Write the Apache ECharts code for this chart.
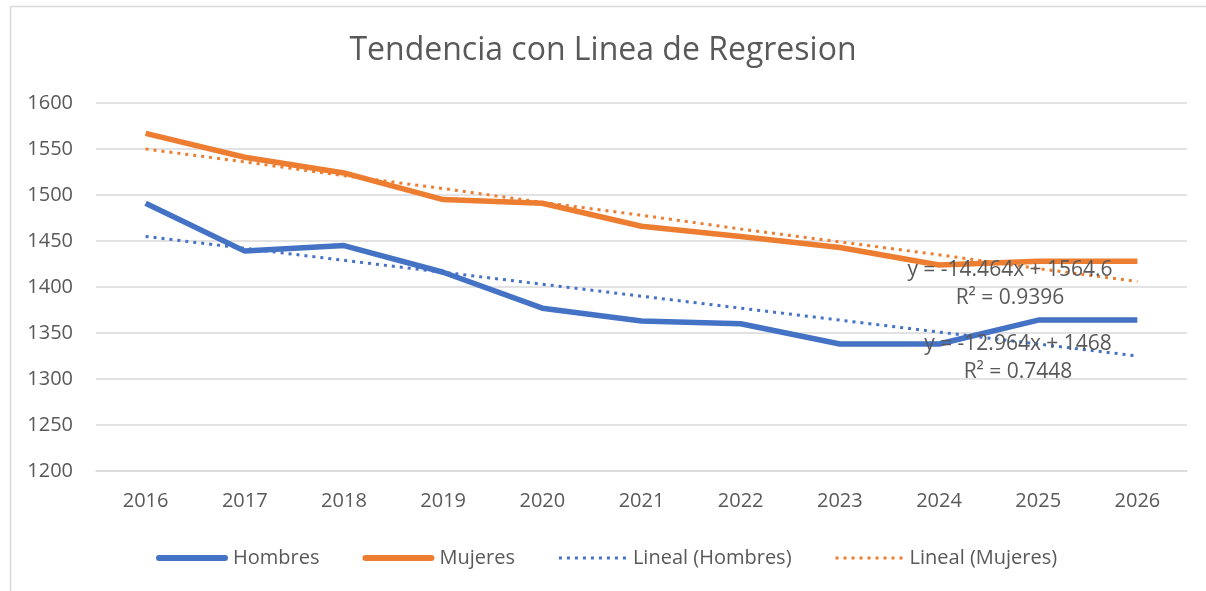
<!DOCTYPE html>
<html>
<head>
<meta charset="utf-8">
<script src="https://cdn.jsdelivr.net/npm/echarts@6/dist/echarts.min.js"></script>
<style>html,body{margin:0;padding:0;background:#fff;}#c{width:1206px;height:591px;}</style>
</head>
<body>
<div id="c"></div>
<script>
const years = ['2016','2017','2018','2019','2020','2021','2022','2023','2024','2025','2026'];
const hombres = [1491, 1439, 1445, 1416, 1377, 1363, 1360, 1338, 1338, 1364, 1364];
const mujeres = [1567, 1541, 1524, 1495, 1491, 1466, 1455, 1443, 1424, 1428, 1428];
const linealHombres = [1455, 1442, 1429, 1416, 1403, 1390, 1377, 1364, 1351, 1338, 1325];
const linealMujeres = [1550, 1536, 1521, 1507, 1492, 1478, 1463, 1449, 1435, 1420, 1406];
const eqMujeres = 'y = -14.464x + 1564.6';
const r2Mujeres = 'R² = 0.9396';
const eqHombres = 'y = -12.964x + 1468';
const r2Hombres = 'R² = 0.7448';
const titleText = 'Tendencia con Linea de Regresion';

const FONT = 'Open Sans';
const TXT = '#595959';
const BLUE = '#4472C4';
const ORANGE = '#ED7D31';

// legend icons
let dots = 'path://M0,0L0.01,0L0.01,6L0,6Z';
for (let i = 0; i < 9; i++) {
  const x = 1 + i * 8;
  dots += 'M' + x + ',1.5h3v3h-3Z';
}
const solid = 'path://M3,0h66a3,3 0 0 1 0,6h-66a3,3 0 0 1 0,-6Z';

const chart = echarts.init(document.getElementById('c'), null, {renderer: 'canvas'});
chart.setOption({
  animation: false,
  backgroundColor: '#fff',
  textStyle: {fontFamily: FONT, color: TXT},
  title: {
    text: titleText, left: 'center', top: 30,
    textStyle: {fontFamily: FONT, fontSize: 32, fontWeight: 'normal', color: TXT}
  },
  grid: {left: 96, right: 19, top: 103, bottom: 120, containLabel: false},
  legend: {
    left: 151, top: 543, itemWidth: 72, itemHeight: 6, itemGap: 43,
    textStyle: {fontFamily: FONT, fontSize: 20, color: TXT},
    data: [
      {name: 'Hombres', icon: solid},
      {name: 'Mujeres', icon: solid},
      {name: 'Lineal (Hombres)', icon: dots},
      {name: 'Lineal (Mujeres)', icon: dots}
    ]
  },
  xAxis: {
    type: 'category', data: years, boundaryGap: true,
    axisLine: {lineStyle: {color: '#d9d9d9', width: 1.5}},
    axisTick: {show: false},
    axisLabel: {fontFamily: FONT, fontSize: 20, color: TXT, margin: 20}
  },
  yAxis: {
    type: 'value', min: 1200, max: 1600, interval: 50,
    axisLine: {show: false}, axisTick: {show: false},
    axisLabel: {fontFamily: FONT, fontSize: 20, color: TXT, margin: 23, formatter: v => String(v)},
    splitLine: {lineStyle: {color: '#d9d9d9', width: 1.5}}
  },
  series: [
    {name: 'Hombres', type: 'line', data: hombres, symbol: 'none', z: 2,
     lineStyle: {color: BLUE, width: 5.5}, itemStyle: {color: BLUE}},
    {name: 'Mujeres', type: 'line', data: mujeres, symbol: 'none', z: 2,
     lineStyle: {color: ORANGE, width: 5.5}, itemStyle: {color: ORANGE}},
    {name: 'Lineal (Hombres)', type: 'line', data: linealHombres, symbol: 'none', z: 3,
     lineStyle: {color: BLUE, width: 3, type: [3, 5]}, itemStyle: {color: BLUE}},
    {name: 'Lineal (Mujeres)', type: 'line', data: linealMujeres, symbol: 'none', z: 3,
     lineStyle: {color: ORANGE, width: 3, type: [3, 5]}, itemStyle: {color: ORANGE}}
  ],
  graphic: [
    {type: 'rect', left: 8, top: 4, z: -10, silent: true,
     shape: {width: 1210, height: 600},
     style: {fill: 'none', stroke: '#d9d9d9', lineWidth: 1.5}},
    {type: 'text', x: 1010, y: 270, z: 100, style: {text: eqMujeres, fill: TXT, font: '21px "Open Sans"', textAlign: 'center', textVerticalAlign: 'middle'}},
    {type: 'text', x: 1010, y: 298, z: 100, style: {text: r2Mujeres, fill: TXT, font: '21px "Open Sans"', textAlign: 'center', textVerticalAlign: 'middle'}},
    {type: 'text', x: 1018, y: 344, z: 100, style: {text: eqHombres, fill: TXT, font: '21px "Open Sans"', textAlign: 'center', textVerticalAlign: 'middle'}},
    {type: 'text', x: 1018, y: 372, z: 100, style: {text: r2Hombres, fill: TXT, font: '21px "Open Sans"', textAlign: 'center', textVerticalAlign: 'middle'}}
  ]
});
</script>
</body>
</html>
